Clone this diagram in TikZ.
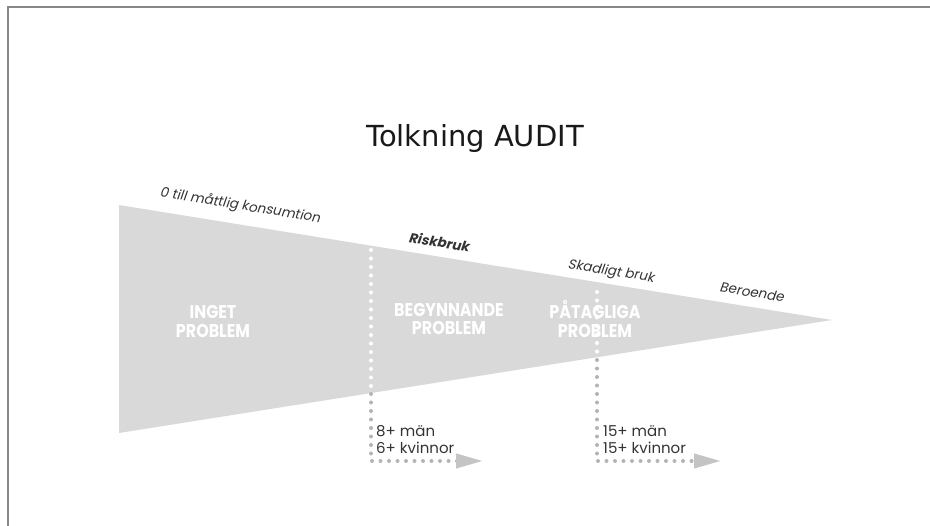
\documentclass[tikz,border=0pt]{standalone}
\usepackage{fontspec}
\usetikzlibrary{arrows.meta}
\newfontfamily\titlefont{DejaVu Sans}
\newfontfamily\fut{Poppins}
\newfontfamily\futsl[FakeSlant=0.18]{Poppins}
\definecolor{wedge}{HTML}{D9D9D9}
\definecolor{dotgray}{HTML}{B4B4B4}
\definecolor{arrowgray}{HTML}{C4C4C4}
\definecolor{frame}{HTML}{888888}
\definecolor{labtext}{HTML}{333333}
\tikzset{
  dotline/.style={line width=4pt, line cap=round, dash pattern=on 0pt off 8.5pt},
  inlabel/.style={text=white, font=\fut\bfseries\fontsize{18.5}{19}\selectfont, align=center, inner sep=0pt, xscale=0.86, transform shape},
  slantlab/.style={text=labtext, font=\futsl\fontsize{13.5}{15}\selectfont, rotate=-9.3, inner sep=0pt},
  thresh/.style={text=labtext, font=\fut\fontsize{15}{17}\selectfont, align=left, inner sep=0pt},
  tip/.style={-{Triangle[length=27pt,width=14pt,color=arrowgray,fill=arrowgray]}}
}
\begin{document}
\begin{tikzpicture}[x=1pt,y=-1pt]
\useasboundingbox (0,0) rectangle (930,526);
% frame
\draw[frame, line width=2pt] (8,526) -- (8,7) -- (930,7);
% wedge
\coordinate (wl1) at (119,205);
\coordinate (wtip) at (832,320);
\coordinate (wl2) at (119,433);
\fill[wedge] (wl1) -- (wtip) -- (wl2) -- cycle;
% title
\node[font=\titlefont\fontsize{29}{32}\selectfont, text=black!90] (title) at (475,139) {Tolkning AUDIT};
% dotted connectors
\coordinate (a1) at (371,250);
\coordinate (a2) at (371,394);
\coordinate (a3) at (371,461);
\coordinate (a4) at (483,461);
\draw[dotline, white] (a1) -- (a2);
\draw[dotline, dotgray, tip] (a2) -- (a3) -- (a4);
\coordinate (b1) at (597,292);
\coordinate (b2) at (597,360);
\coordinate (b3) at (597,461);
\coordinate (b4) at (721,461);
\draw[dotline, white] (b1) -- (b2);
\draw[dotline, dotgray, tip] (b2) -- (b3) -- (b4);
% labels in wedge
\node[inlabel] (inget) at (213,321) {INGET\\PROBLEM};
\node[inlabel] (begyn) at (449,319) {BEGYNNANDE\\PROBLEM};
\node[inlabel] (patag) at (595,319) {PÅTAGLIGA\\PROBLEM};
% slanted labels
\node[slantlab] (cons) at (240,206) {0 till måttlig konsumtion};
\node[slantlab, font=\futsl\bfseries\fontsize{13.5}{15}\selectfont] (risk) at (439,242) {Riskbruk};
\node[slantlab] (skad) at (611,272) {Skadligt bruk};
\node[slantlab] (bero) at (752,292) {Beroende};
% thresholds
\node[thresh, anchor=west] (th1) at (376,440) {8+ män\\6+ kvinnor};
\node[thresh, anchor=west] (th2) at (603,440) {15+ män\\15+ kvinnor};
\end{tikzpicture}
\end{document}
